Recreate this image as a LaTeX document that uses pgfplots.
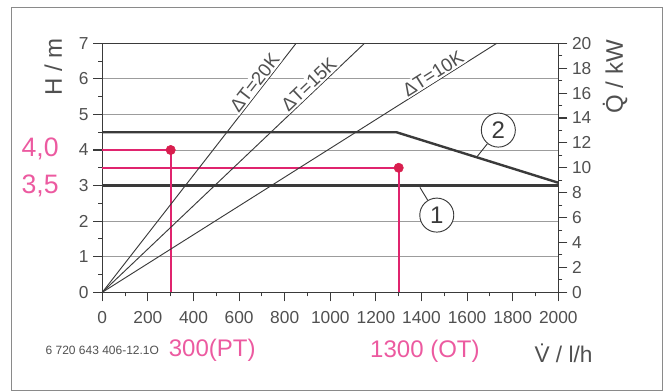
\documentclass[border=0pt]{standalone}
\usepackage{fontspec}
\setmainfont{Liberation Sans}
\usepackage{pgfplots}
\pgfplotsset{compat=1.18}

\definecolor{ink}{HTML}{3A3A3A}
\definecolor{txt}{HTML}{505050}
\definecolor{gridc}{HTML}{9C9C9C}
\definecolor{pinkline}{HTML}{E0246E}
\definecolor{pinkdot}{HTML}{D81E4E}
\definecolor{pinktext}{HTML}{EC5AA0}
\definecolor{framec}{HTML}{8A8A8A}

\pgfplotsset{
  chartbase/.style={
    at={(76.725pt,74.775pt)}, anchor=south west,
    scale only axis, width=342pt, height=186.75pt,
    xmin=0, xmax=2000, clip=false,
    tick align=outside,
    major tick length=6.75pt, minor tick length=3pt,
    every tick/.style={ink, line width=0.8pt},
    tick label style={font=\fontsize{13}{14}\selectfont, text=txt},
    /pgf/number format/assume math mode=true,
    /pgf/number format/1000 sep={},
    axis line style={ink, line width=0.8pt},
  }
}

\begin{document}
\begin{tikzpicture}[x=0.75pt,y=0.75pt]
\useasboundingbox (0,0) rectangle (670,392);
\draw[framec, line width=0.9pt] (11.7,1.8) rectangle (662.5,384.7);

% Pump head H over flow rate V
\begin{axis}[chartbase,
  ymin=0, ymax=7,
  ytick={0,...,7}, minor ytick={0.5,1.5,...,6.5},
  xtick={0,200,...,2000}, minor xtick={100,300,...,1900},
  xtick pos=bottom, ytick pos=left,
  xticklabel style={yshift=-4pt},
  ymajorgrids, major grid style={gridc, line width=0.6pt},
]
% pump curve 2
\addplot[ink, line width=1.8pt] coordinates {(0,4.5) (1290,4.5) (2000,3.08)};
% pump curve 1
\addplot[ink, line width=1.8pt] coordinates {(0,3.0) (2000,3.0)};

% operating points
\addplot[pinkline, line width=1.5pt] coordinates {(0,4.0) (300,4.0) (300,0)};
\addplot[pinkline, line width=1.5pt] coordinates {(0,3.5) (1300,3.5) (1300,0)};
\addplot[only marks, mark=*, mark size=3.5pt, pinkdot] coordinates {(300,4.0) (1300,3.5)};

% curve markers
\node[circle, draw=ink, line width=0.7pt, minimum size=25.5pt, inner sep=0pt,
      fill=white, font=\fontsize{18}{18}\selectfont, text=ink] (c1) at (axis cs:1467,2.17) {1};
\draw[ink, line width=0.7pt] (axis cs:1393,2.95) -- (c1);
\node[circle, draw=ink, line width=0.7pt, minimum size=25.5pt, inner sep=0pt,
      fill=white, font=\fontsize{18}{18}\selectfont, text=ink] (c2) at (axis cs:1737,4.56) {2};
\draw[ink, line width=0.7pt] (axis cs:1642,3.80) -- (c2);

% axis titles and notes
\node[rotate=90, font=\fontsize{18}{18}\selectfont, text=txt] at (axis cs:-215,6.34) {H / m};
\node[rotate=90, font=\fontsize{18}{18}\selectfont, text=txt] at (axis cs:2249,6.06) {\.{Q} / kW};
\node[font=\fontsize{17}{17}\selectfont, text=txt] at (axis cs:2023,-1.71) {\.{V} / l/h};
\node[font=\fontsize{9}{10}\selectfont, text=txt] at (axis cs:0,-1.62) {6 720 643 406-12.1O};

% handwritten values
\node[font=\fontsize{20}{20}\selectfont, text=pinktext] at (axis cs:-273,4.03) {4,0};
\node[font=\fontsize{20}{20}\selectfont, text=pinktext] at (axis cs:-273,2.99) {3,5};
\node[font=\fontsize{18}{18}\selectfont, text=pinktext] at (axis cs:482,-1.62) {300(PT)};
\node[font=\fontsize{18}{18}\selectfont, text=pinktext] at (axis cs:1415,-1.67) {1300 (OT)};
\end{axis}

% Heat output Q over flow rate V for constant temperature spread
\begin{axis}[chartbase,
  ymin=0, ymax=20,
  ytick={0,2,...,20}, minor ytick={1,3,...,19},
  axis y line*=right, axis x line=none,
]
\addplot[ink, line width=0.7pt] coordinates {(0,0) (850,20)}
  node[pos=0.82, sloped, above, fill=white, inner sep=1pt,
       font=\fontsize{14}{15}\selectfont, text=txt] {ΔT=20K};
\addplot[ink, line width=0.7pt] coordinates {(0,0) (1150,20)}
  node[pos=0.81, sloped, above, fill=white, inner sep=1pt,
       font=\fontsize{14}{15}\selectfont, text=txt] {ΔT=15K};
\addplot[ink, line width=0.7pt] coordinates {(0,0) (1730,20)}
  node[pos=0.85, sloped, above, fill=white, inner sep=1pt,
       font=\fontsize{14}{15}\selectfont, text=txt] {ΔT=10K};
\end{axis}
\end{tikzpicture}
\end{document}
